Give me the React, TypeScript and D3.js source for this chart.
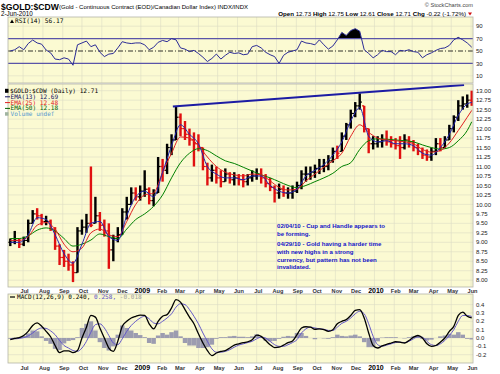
import { useEffect, useRef } from 'react';
import * as d3 from 'd3';

const W = 500;
const H = 374;

// one bar per week, the last one is the 2-Jun-2010 session
const lastSession = new Date(2010, 5, 2);

const priceHigh = [
  9.1, 9.3, 9.1, 9.15, 9.6, 9.85, 9.9, 9.75, 9.7, 9.6,
  9.4, 8.95, 8.8, 8.7, 8.5, 9.4, 9.6, 9.75, 11.0, 10.2,
  9.8, 9.6, 9.5, 9.2, 9.4, 9.9, 10.2, 10.45, 10.45, 10.5,
  10.9, 10.45, 10.4, 11.25, 11.2, 11.6, 11.85, 12.58, 12.4, 12.2,
  12.0, 11.9, 11.85, 11.5, 11.1, 11.05, 11.0, 10.9, 10.95, 10.85,
  10.85, 10.8, 10.8, 10.8, 10.9, 10.95, 10.95, 10.8, 10.7, 10.5,
  10.55, 10.5, 10.45, 10.5, 10.6, 10.9, 11.0, 11.0, 11.05, 11.2,
  11.2, 11.3, 11.5, 11.55, 11.9, 12.15, 12.5, 12.7, 12.93, 12.6,
  12.0, 11.8, 11.8, 11.85, 11.95, 11.8, 11.75, 11.8, 11.85, 11.8,
  11.7, 11.6, 11.5, 11.45, 11.5, 11.75, 11.75, 11.8, 12.1, 12.35,
  12.75, 12.85, 12.9, 13.0,
];
const priceLow = [
  8.9, 8.95, 8.85, 8.9, 9.0, 9.5, 9.6, 9.45, 9.45, 9.3,
  8.8, 8.4, 8.35, 8.25, 7.95, 8.2, 9.2, 9.25, 9.4, 9.5,
  9.3, 9.15, 8.3, 8.5, 9.0, 9.2, 9.6, 10.0, 10.1, 10.1,
  10.2, 10.0, 9.95, 10.3, 10.6, 10.8, 11.3, 11.7, 11.8, 11.7,
  11.55, 11.0, 11.4, 10.9, 10.5, 10.6, 10.55, 10.45, 10.6, 10.55,
  10.5, 10.5, 10.45, 10.5, 10.6, 10.65, 10.55, 10.45, 10.35, 10.05,
  10.15, 10.2, 10.15, 10.15, 10.3, 10.4, 10.6, 10.65, 10.7, 10.8,
  10.85, 10.9, 11.1, 11.2, 11.4, 11.7, 12.0, 12.3, 12.5, 11.9,
  11.35, 11.45, 11.5, 11.5, 11.55, 11.5, 11.45, 11.2, 11.45, 11.5,
  11.4, 11.3, 11.2, 11.15, 11.15, 11.3, 11.4, 11.5, 11.7, 11.9,
  12.2, 12.5, 12.55, 12.6,
];
const priceClose = [
  9.0, 9.05, 8.95, 9.05, 9.5, 9.75, 9.7, 9.55, 9.55, 9.35,
  8.9, 8.6, 8.5, 8.4, 8.2, 9.3, 9.4, 9.5, 9.45, 9.7,
  9.45, 9.3, 8.8, 9.1, 9.2, 9.8, 10.0, 10.3, 10.2, 10.35,
  10.4, 10.1, 10.3, 11.0, 10.9, 11.5, 11.7, 12.3, 12.0, 11.85,
  11.7, 11.6, 11.5, 11.0, 10.7, 10.9, 10.7, 10.6, 10.8, 10.65,
  10.7, 10.65, 10.6, 10.7, 10.75, 10.8, 10.7, 10.55, 10.45, 10.3,
  10.4, 10.3, 10.3, 10.35, 10.5, 10.8, 10.8, 10.85, 10.95, 11.0,
  11.0, 11.15, 11.4, 11.35, 11.8, 12.1, 12.4, 12.6, 12.7, 12.0,
  11.6, 11.6, 11.65, 11.7, 11.65, 11.6, 11.55, 11.5, 11.7, 11.65,
  11.5, 11.4, 11.3, 11.25, 11.4, 11.6, 11.5, 11.7, 12.0, 12.3,
  12.6, 12.65, 12.75, 12.71,
];

// EMAs read every second week (plus the last session)
const emaWeekIdx = [...d3.range(0, 104, 2), 103];
const ema13 = [
  9.0, 9.0, 9.2, 9.65, 9.6, 9.2, 8.7, 8.45, 8.95, 9.5,
  9.55, 9.15, 9.05, 9.7, 10.2, 10.35, 10.2, 10.85, 11.55, 12.1,
  11.85, 11.6, 11.0, 10.8, 10.7, 10.7, 10.65, 10.75, 10.75, 10.5,
  10.35, 10.3, 10.4, 10.75, 10.9, 11.05, 11.3, 11.65, 12.2, 12.55,
  11.8, 11.65, 11.68, 11.6, 11.6, 11.55, 11.35, 11.3, 11.5, 11.85,
  12.35, 12.65, 12.69,
];
const ema25 = [
  9.05, 9.05, 9.15, 9.45, 9.52, 9.35, 8.95, 8.75, 8.85, 9.25,
  9.35, 9.2, 9.15, 9.55, 10.0, 10.25, 10.3, 10.85, 11.35, 11.78,
  11.75, 11.55, 11.25, 11.0, 10.85, 10.78, 10.75, 10.8, 10.78, 10.62,
  10.45, 10.38, 10.4, 10.62, 10.8, 10.98, 11.15, 11.35, 11.8, 12.1,
  11.9, 11.75, 11.7, 11.68, 11.65, 11.6, 11.45, 11.38, 11.42, 11.62,
  11.95, 12.3, 12.48,
];
const ema50 = [
  9.1, 9.1, 9.17, 9.32, 9.38, 9.3, 9.1, 8.9, 8.95, 9.06,
  9.22, 9.15, 9.1, 9.35, 9.6, 9.75, 9.95, 10.25, 10.7, 11.1,
  11.35, 11.47, 11.42, 11.28, 11.15, 11.08, 10.98, 10.88, 10.78, 10.7,
  10.6, 10.5, 10.44, 10.5, 10.6, 10.7, 10.82, 11.0, 11.1, 11.45,
  11.68, 11.73, 11.72, 11.7, 11.68, 11.65, 11.57, 11.5, 11.46, 11.5,
  11.68, 11.95, 12.18,
];

const rsi14 = [
  50, 52, 57, 52, 62, 67.7, 63, 61, 51.6, 47,
  37, 36, 39, 37, 27, 60, 63, 66, 57, 60,
  48, 41, 45, 46, 55, 65, 63, 62, 63, 63,
  60, 52, 56, 64, 67, 65, 70, 68, 55, 53,
  49, 51, 46, 40, 33, 38, 45, 37, 43, 48,
  46, 47, 44, 45, 57, 59, 55, 48, 44, 41,
  30, 43, 48, 50, 52, 66, 63, 62, 60, 68,
  60, 53, 58, 68, 80, 75, 83, 86, 82, 52,
  46, 39, 44, 51, 49, 49, 44, 51, 50, 52,
  49, 48, 39, 44, 47, 51, 54, 55, 59, 68,
  72, 68, 63, 56.17,
];

const macdLine = [
  -0.02, -0.005, 0.005, 0.03, 0.08, 0.15, 0.18, 0.14, 0.08, 0.015,
  -0.09, -0.175, -0.155, -0.155, -0.175, -0.15, 0.0, 0.13, 0.27, 0.25,
  0.12, 0.0, -0.12, -0.16, -0.04, 0.14, 0.2, 0.24, 0.26, 0.275,
  0.27, 0.17, 0.11, 0.2, 0.26, 0.28, 0.36, 0.46, 0.43, 0.34,
  0.25, 0.17, 0.05, -0.06, -0.15, -0.21, -0.18, -0.16, -0.15, -0.12,
  -0.085, -0.07, -0.055, -0.045, -0.02, 0.035, 0.02, -0.03, -0.08, -0.115,
  -0.11, -0.085, -0.055, -0.035, 0.04, 0.12, 0.135, 0.13, 0.105, 0.11,
  0.1, 0.08, 0.1, 0.17, 0.2, 0.22, 0.27, 0.33, 0.34, 0.24,
  0.06, -0.09, -0.12, -0.095, -0.075, -0.06, -0.045, -0.05, -0.06, -0.03,
  0.01, 0.03, 0.0, -0.07, -0.1, -0.09, -0.05, 0.0, 0.08, 0.14,
  0.27, 0.31, 0.26, 0.24,
];
const macdSignal = [
  -0.01, -0.01, -0.005, 0.005, 0.025, 0.06, 0.1, 0.12, 0.115, 0.085,
  0.04, -0.03, -0.09, -0.12, -0.15, -0.16, -0.12, -0.04, 0.07, 0.16,
  0.17, 0.12, 0.03, -0.06, -0.08, -0.01, 0.08, 0.15, 0.2, 0.24,
  0.26, 0.23, 0.18, 0.17, 0.2, 0.24, 0.29, 0.37, 0.41, 0.4,
  0.34, 0.26, 0.17, 0.06, -0.04, -0.13, -0.17, -0.17, -0.16, -0.14,
  -0.11, -0.085, -0.07, -0.055, -0.04, -0.01, 0.01, 0.0, -0.04, -0.08,
  -0.1, -0.1, -0.08, -0.055, -0.02, 0.06, 0.11, 0.13, 0.12, 0.11,
  0.105, 0.09, 0.09, 0.13, 0.175, 0.2, 0.24, 0.29, 0.32, 0.29,
  0.17, 0.02, -0.08, -0.1, -0.085, -0.07, -0.055, -0.05, -0.055, -0.04,
  -0.01, 0.015, 0.01, -0.04, -0.08, -0.09, -0.07, -0.03, 0.03, 0.1,
  0.2, 0.27, 0.27, 0.258,
];

// hand drawn resistance line
const trendDates = ['2009-02-20', '2010-05-21'];
const trendPrices = [12.58, 13.15];

const monthLabels = [
  'Jul', 'Aug', 'Sep', 'Oct', 'Nov', 'Dec', '2009', 'Feb', 'Mar', 'Apr', 'May', 'Jun',
  'Jul', 'Aug', 'Sep', 'Oct', 'Nov', 'Dec', '2010', 'Feb', 'Mar', 'Apr', 'May', 'Jun',
];
const priceTicks = d3.range(8, 13.001, 0.25);
const rsiTicks = [10, 30, 50, 70, 90];
const macdTicks = [-0.2, -0.1, 0, 0.1, 0.2, 0.3, 0.4];

const notes = [
  '02/04/10 - Cup and Handle appears to',
  'be forming.',
  '04/29/10 - Gold having a harder time',
  'with new highs in a strong',
  'currency, but pattern has not been',
  'invalidated.',
];

const BG = '#fbfad2';
const GRID = '#dcdcc4';
const FONT = 'Liberation Sans, Arial, sans-serif';
const MONO = 'DejaVu Sans Mono, monospace';

export default function App() {
  const svgRef = useRef<SVGSVGElement>(null);

  useEffect(() => {
    if (!svgRef.current) return;
    const svg = d3.select(svgRef.current);
    svg.selectAll('*').remove();

    const left = 8;
    const right = 473;
    const rsiBox = { top: 17, bottom: 83 };
    const mainBox = { top: 84, bottom: 287 };
    const macdBox = { top: 294, bottom: 363 };

    const weeks = d3.range(104).map((i) => d3.timeDay.offset(lastSession, -7 * (103 - i)));
    const bars = weeks.map((d, i) => ({
      date: d,
      high: priceHigh[i],
      low: priceLow[i],
      close: priceClose[i],
      prev: i > 0 ? priceClose[i - 1] : priceClose[i],
    }));
    const emaDates = emaWeekIdx.map((i) => weeks[i]);

    const x = d3.scaleTime()
      .domain([new Date(2008, 5, 9), new Date(2010, 5, 4)])
      .range([left + 1, right]);
    const yRsi = d3.scaleLinear().domain([0, 100]).range([82, 20]);
    const yPrice = d3.scaleLinear().domain([8, 13]).range([280.2, 90.7]);
    const yMacd = d3.scaleLinear().domain([-0.2, 0.4]).range([354.7, 304.6]);

    const months = d3.timeMonth.range(new Date(2008, 6, 1), new Date(2010, 5, 3));

    const defs = svg.append('defs');
    const panels = [
      { id: 'clip-rsi', box: rsiBox },
      { id: 'clip-main', box: mainBox },
      { id: 'clip-macd', box: macdBox },
    ];
    panels.forEach((p) => {
      defs.append('clipPath').attr('id', p.id)
        .append('rect')
        .attr('x', left).attr('y', p.box.top)
        .attr('width', right - left).attr('height', p.box.bottom - p.box.top);
    });

    // panel backgrounds + month grid
    panels.forEach((p) => {
      svg.append('rect')
        .attr('x', left).attr('y', p.box.top)
        .attr('width', right - left).attr('height', p.box.bottom - p.box.top)
        .attr('fill', BG);
      svg.append('g')
        .selectAll('line')
        .data(months)
        .join('line')
        .attr('x1', (d) => x(d)).attr('x2', (d) => x(d))
        .attr('y1', p.box.top).attr('y2', p.box.bottom)
        .attr('stroke', GRID).attr('stroke-width', 0.6);
    });

    // ---------- RSI ----------
    const rsiG = svg.append('g').attr('clip-path', 'url(#clip-rsi)');
    rsiG.selectAll('.rg')
      .data([10, 90])
      .join('line')
      .attr('x1', left).attr('x2', right)
      .attr('y1', (d) => yRsi(d)).attr('y2', (d) => yRsi(d))
      .attr('stroke', GRID).attr('stroke-width', 0.6);

    const rsiPts = weeks.map((d, i) => ({ date: d, v: rsi14[i] }));
    defs.append('clipPath').attr('id', 'clip-ob')
      .append('rect')
      .attr('x', left).attr('y', rsiBox.top)
      .attr('width', right - left).attr('height', yRsi(70) - rsiBox.top);
    rsiG.append('path')
      .datum(rsiPts)
      .attr('clip-path', 'url(#clip-ob)')
      .attr('fill', '#000')
      .attr('d', d3.area<typeof rsiPts[0]>()
        .x((d) => x(d.date))
        .y0(yRsi(70))
        .y1((d) => yRsi(d.v)));

    [70, 30].forEach((v) => {
      rsiG.append('line')
        .attr('x1', left).attr('x2', right)
        .attr('y1', yRsi(v)).attr('y2', yRsi(v))
        .attr('stroke', '#5a55a8').attr('stroke-width', 1.2);
    });
    rsiG.append('line')
      .attr('x1', left).attr('x2', right)
      .attr('y1', yRsi(50)).attr('y2', yRsi(50))
      .attr('stroke', '#000').attr('stroke-width', 0.8)
      .attr('stroke-dasharray', '5,2,1,2');

    rsiG.append('path')
      .datum(rsiPts)
      .attr('fill', 'none')
      .attr('stroke', '#2c2c96')
      .attr('stroke-width', 1)
      .attr('d', d3.line<typeof rsiPts[0]>().x((d) => x(d.date)).y((d) => yRsi(d.v)));

    // ---------- price ----------
    const mainG = svg.append('g').attr('clip-path', 'url(#clip-main)');
    mainG.selectAll('.pg')
      .data(priceTicks)
      .join('line')
      .attr('x1', left).attr('x2', right)
      .attr('y1', (d) => yPrice(d)).attr('y2', (d) => yPrice(d))
      .attr('stroke', GRID).attr('stroke-width', 0.6);

    const barColor = (d: typeof bars[0]) => (d.close >= d.prev ? '#000' : '#e01010');
    const barG = mainG.append('g');
    barG.selectAll('.hl')
      .data(bars)
      .join('line')
      .attr('x1', (d) => x(d.date)).attr('x2', (d) => x(d.date))
      .attr('y1', (d) => yPrice(d.high)).attr('y2', (d) => yPrice(d.low))
      .attr('stroke', barColor).attr('stroke-width', 2.4);
    barG.selectAll('.op')
      .data(bars)
      .join('line')
      .attr('x1', (d) => x(d.date) - 2.2).attr('x2', (d) => x(d.date))
      .attr('y1', (d) => yPrice(Math.min(d.high, Math.max(d.low, d.prev))))
      .attr('y2', (d) => yPrice(Math.min(d.high, Math.max(d.low, d.prev))))
      .attr('stroke', barColor).attr('stroke-width', 1.2);
    barG.selectAll('.cl')
      .data(bars)
      .join('line')
      .attr('x1', (d) => x(d.date)).attr('x2', (d) => x(d.date) + 2.2)
      .attr('y1', (d) => yPrice(d.close)).attr('y2', (d) => yPrice(d.close))
      .attr('stroke', barColor).attr('stroke-width', 1.2);

    const emaLine = d3.line<number>()
      .x((_, i) => x(emaDates[i]))
      .y((d) => yPrice(d))
      .curve(d3.curveMonotoneX);
    [
      { v: ema50, c: '#008000' },
      { v: ema25, c: '#e02020' },
      { v: ema13, c: '#2424b0' },
    ].forEach((s) => {
      mainG.append('path')
        .datum(s.v)
        .attr('fill', 'none')
        .attr('stroke', s.c)
        .attr('stroke-width', 1)
        .attr('d', emaLine);
    });

    const parse = d3.timeParse('%Y-%m-%d');
    mainG.append('path')
      .datum(trendDates.map((d, i) => ({ date: parse(d) as Date, p: trendPrices[i] })))
      .attr('fill', 'none')
      .attr('stroke', '#1c1ca4')
      .attr('stroke-width', 2)
      .attr('d', d3.line<{ date: Date; p: number }>().x((d) => x(d.date)).y((d) => yPrice(d.p)));

    // ---------- MACD ----------
    const macdG = svg.append('g').attr('clip-path', 'url(#clip-macd)');
    macdG.selectAll('.mg')
      .data(macdTicks)
      .join('line')
      .attr('x1', left).attr('x2', right)
      .attr('y1', (d) => yMacd(d)).attr('y2', (d) => yMacd(d))
      .attr('stroke', GRID).attr('stroke-width', 0.6);

    const step = x(weeks[1]) - x(weeks[0]);
    macdG.selectAll('.hist')
      .data(weeks)
      .join('rect')
      .attr('x', (d) => x(d) - step / 2)
      .attr('width', step)
      .attr('y', (_, i) => Math.min(yMacd(0), yMacd(macdLine[i] - macdSignal[i])))
      .attr('height', (_, i) => Math.abs(yMacd(macdLine[i] - macdSignal[i]) - yMacd(0)))
      .attr('fill', '#9c9cb0');

    const mLine = (vals: number[]) => d3.line<number>()
      .x((_, i) => x(weeks[i]))
      .y((d) => yMacd(d))
      .curve(d3.curveMonotoneX)(vals);
    macdG.append('path')
      .attr('d', mLine(macdSignal))
      .attr('fill', 'none').attr('stroke', '#6458c8').attr('stroke-width', 1);
    macdG.append('path')
      .attr('d', mLine(macdLine))
      .attr('fill', 'none').attr('stroke', '#000').attr('stroke-width', 1.3);

    // panel borders
    panels.forEach((p) => {
      svg.append('rect')
        .attr('x', left).attr('y', p.box.top)
        .attr('width', right - left).attr('height', p.box.bottom - p.box.top)
        .attr('fill', 'none').attr('stroke', '#b4b4a8').attr('stroke-width', 0.8);
    });

    // ---------- axes labels ----------
    const rightLabels = (ticks: number[], y: (v: number) => number, fmt: (v: number) => string) => {
      svg.append('g')
        .selectAll('text')
        .data(ticks)
        .join('text')
        .attr('x', right + 3)
        .attr('y', (d) => y(d) + 2.1)
        .attr('font-family', FONT)
        .attr('font-size', 6)
        .attr('fill', '#222')
        .text(fmt);
    };
    rightLabels(rsiTicks, yRsi, (d) => String(d));
    rightLabels(priceTicks, yPrice, (d) => d.toFixed(2));
    rightLabels(macdTicks, yMacd, (d) => d.toFixed(1));

    [292.8, 369.6].forEach((yy) => {
      svg.append('g')
        .selectAll('text')
        .data(months)
        .join('text')
        .attr('x', (d) => x(d) + 1.5)
        .attr('y', yy)
        .attr('text-anchor', 'middle')
        .attr('font-family', FONT)
        .attr('font-weight', 'bold')
        .attr('font-size', (_, i) => (monthLabels[i].length === 4 ? 7 : 5.6))
        .attr('fill', (_, i) => (monthLabels[i].length === 4 ? '#000' : '#333'))
        .text((_, i) => monthLabels[i]);
    });

    // ---------- header ----------
    svg.append('text')
      .attr('x', 1).attr('y', 9.5)
      .attr('font-family', FONT).attr('font-weight', 'bold').attr('font-size', 8.6)
      .text('$GOLD:$CDW');
    svg.append('text')
      .attr('x', 59).attr('y', 9)
      .attr('font-family', FONT).attr('font-size', 5.6)
      .attr('textLength', 189).attr('lengthAdjust', 'spacingAndGlyphs')
      .text('(Gold - Continuous Contract (EOD)/Canadian Dollar Index) INDX/INDX');
    svg.append('text')
      .attr('x', 1).attr('y', 16.2)
      .attr('font-family', FONT).attr('font-size', 6.3)
      .text('2-Jun-2010');
    svg.append('text')
      .attr('x', 473).attr('y', 7)
      .attr('text-anchor', 'end')
      .attr('font-family', FONT).attr('font-size', 5.6).attr('fill', '#444')
      .text('© StockCharts.com');

    const ohlc = svg.append('text')
      .attr('x', 466).attr('y', 16)
      .attr('text-anchor', 'end')
      .attr('font-family', FONT).attr('font-size', 6.2);
    [
      ['Open', ' 12.73 '], ['High', ' 12.75 '], ['Low', ' 12.61 '],
      ['Close', ' 12.71 '], ['Chg', ' -0.22 (-1.72%)'],
    ].forEach(([k, v]) => {
      ohlc.append('tspan').attr('font-weight', 'bold').text(k);
      ohlc.append('tspan').text(v);
    });
    svg.append('path')
      .attr('d', 'M468,12.5 L472,12.5 L470,15.5 Z')
      .attr('fill', '#d01010');

    // ---------- legends ----------
    svg.append('path').attr('d', 'M10,23 L12,19.5 L14,23 Z').attr('fill', '#000');
    svg.append('text')
      .attr('x', 15).attr('y', 23)
      .attr('font-family', MONO).attr('font-size', 6.2)
      .text('RSI(14) 56.17');

    const legend = [
      { t: '$GOLD:$CDW (Daily) 12.71', c: '#000' },
      { t: 'EMA(13) 12.69', c: '#101060' },
      { t: 'EMA(25) 12.48', c: '#e02020' },
      { t: 'EMA(50) 12.18', c: '#006000' },
      { t: 'Volume undef', c: '#5a9ad0' },
    ];
    legend.forEach((l, i) => {
      const yy = 93 + i * 5.8;
      if (i === 0) {
        svg.append('rect').attr('x', 5).attr('y', yy - 4.2).attr('width', 3.5).attr('height', 4).attr('fill', '#000');
      } else if (i < 4) {
        svg.append('line').attr('x1', 5).attr('x2', 10).attr('y1', yy - 2).attr('y2', yy - 2)
          .attr('stroke', l.c).attr('stroke-width', 1);
      } else {
        svg.append('rect').attr('x', 5).attr('y', yy - 4).attr('width', 3.5).attr('height', 3.5).attr('fill', '#a0b4a0');
      }
      svg.append('text')
        .attr('x', i === 0 ? 10 : 10.5).attr('y', yy)
        .attr('font-family', MONO).attr('font-size', 6.1)
        .attr('fill', l.c)
        .text(l.t);
    });

    svg.append('line').attr('x1', 10).attr('x2', 15).attr('y1', 297).attr('y2', 297)
      .attr('stroke', '#000').attr('stroke-width', 1.2);
    const ml = svg.append('text')
      .attr('x', 17).attr('y', 299)
      .attr('font-family', MONO).attr('font-size', 6.1);
    ml.append('tspan').attr('fill', '#000').text('MACD(12,26,9) 0.240, ');
    ml.append('tspan').attr('fill', '#5a50c8').text('0.258, ');
    ml.append('tspan').attr('fill', '#a0a0a0').text('-0.018');

    // ---------- annotation ----------
    const noteY = [227.7, 236, 246.3, 253.9, 261.5, 269.3];
    svg.append('g')
      .selectAll('text')
      .data(notes)
      .join('text')
      .attr('x', 277)
      .attr('y', (_, i) => noteY[i])
      .attr('font-family', FONT)
      .attr('font-weight', 'bold')
      .attr('font-size', 6.1)
      .attr('fill', '#1414c8')
      .text((d) => d);
  }, []);

  return (
    <svg
      ref={svgRef}
      width={W}
      height={H}
      style={{ position: 'absolute', left: 0, top: 0, background: '#fff' }}
    />
  );
}
